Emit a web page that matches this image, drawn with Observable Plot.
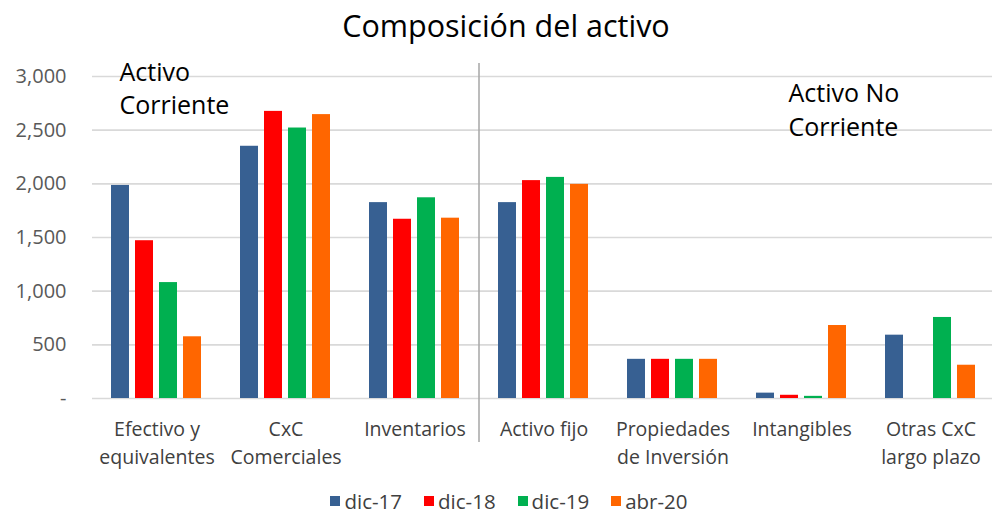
<!DOCTYPE html>
<html>
<head>
<meta charset="utf-8">
<script src="https://cdn.jsdelivr.net/npm/d3@7"></script>
<script src="https://cdn.jsdelivr.net/npm/@observablehq/plot@0.6"></script>
<style>
  html, body { margin: 0; padding: 0; background: #fff; }
  body { width: 992px; height: 514px; overflow: hidden; font-family: "Open Sans", Lato, sans-serif; }
  #title { height: 50px; line-height: 50px; text-align: center; font-size: 30.5px; color: #000; padding-left: 20px; }
  #legend { display: flex; justify-content: center; align-items: center; gap: 22px; height: 26px; font-size: 20.5px; color: #404040; padding-left: 26px; }
  #legend .item { display: flex; align-items: center; gap: 4px; }
  #legend .sw { width: 10px; height: 10px; display: inline-block; }
</style>
</head>
<body>
<div id="title">Composición del activo</div>
<div id="chart"></div>
<div id="legend"></div>
<script>
const categories = ["Efectivo y\nequivalentes", "CxC\nComerciales", "Inventarios", "Activo fijo", "Propiedades\nde Inversión", "Intangibles", "Otras CxC\nlargo plazo"];
const seriesNames = ["dic-17", "dic-18", "dic-19", "abr-20"];
const seriesColors = ["#376092", "#ff0000", "#00b050", "#ff6600"];
const dic17 = [1985, 2350, 1825, 1825, 365, 50, 590];
const dic18 = [1470, 2675, 1670, 2030, 365, 30, 0];
const dic19 = [1080, 2520, 1870, 2060, 365, 20, 755];
const abr20 = [575, 2645, 1680, 1995, 365, 680, 310];
const yTicks = [0, 500, 1000, 1500, 2000, 2500, 3000];
const groupNotes = [
  {cat: categories[0], series: "dic-17", y: 2905, text: "Activo\nCorriente"},
  {cat: categories[5], series: "dic-18", y: 2705, text: "Activo No\nCorriente"}
];

const seriesValues = [dic17, dic18, dic19, abr20];
const data = [];
categories.forEach((c, i) => seriesNames.forEach((s, j) => data.push({cat: c, series: s, value: seriesValues[j][i]})));

const plot = Plot.plot({
  width: 992,
  height: 438,
  marginLeft: 90,
  marginRight: -5,
  marginTop: 26,
  marginBottom: 90,
  style: {fontFamily: "'Open Sans', Lato, sans-serif", fontSize: "19px", background: "#fff"},
  fx: {domain: categories, padding: 0, axis: null},
  x: {domain: seriesNames, paddingInner: 0.23, paddingOuter: 0.76, axis: null},
  y: {domain: [0, 3000], axis: null},
  color: {domain: seriesNames, range: seriesColors},
  marks: [
    Plot.gridY(yTicks, {stroke: "#d9d9d9", strokeOpacity: 1, strokeWidth: 1.6}),
    Plot.axisY(yTicks, {tickSize: 0, tickPadding: 26, tickFormat: d => d === 0 ? "-" : d3.format(",")(d), fill: "#595959", fontSize: 20}),
    Plot.barY(data, {fx: "cat", x: "series", y: "value", fill: "series"}),
    Plot.text(categories, {fx: d => d, text: d => d, frameAnchor: "bottom", lineAnchor: "top", dy: 17, lineHeight: 1.45, fill: "#404040", fontSize: 19.5}),
    Plot.text(groupNotes, {fx: "cat", x: "series", y: "y", text: "text", textAnchor: "start", lineAnchor: "middle", lineHeight: 1.35, fontSize: 25, fill: "#000", dx: -1})
  ]
});
document.getElementById("chart").appendChild(plot);

// divider between current and non-current assets, positioned with the plot's own scales
const fxs = plot.scale("fx");
const ys = plot.scale("y");
const xDiv = fxs.apply(categories[3]);
d3.select(plot).append("line")
  .attr("x1", xDiv).attr("x2", xDiv)
  .attr("y1", ys.apply(3000) - 13).attr("y2", ys.apply(0) + 44)
  .attr("stroke", "#a6a6a6").attr("stroke-width", 1.5);

const legend = d3.select("#legend");
seriesNames.forEach((s, i) => {
  const it = legend.append("div").attr("class", "item");
  it.append("span").attr("class", "sw").style("background", seriesColors[i]);
  it.append("span").text(s);
});
</script>
</body>
</html>
